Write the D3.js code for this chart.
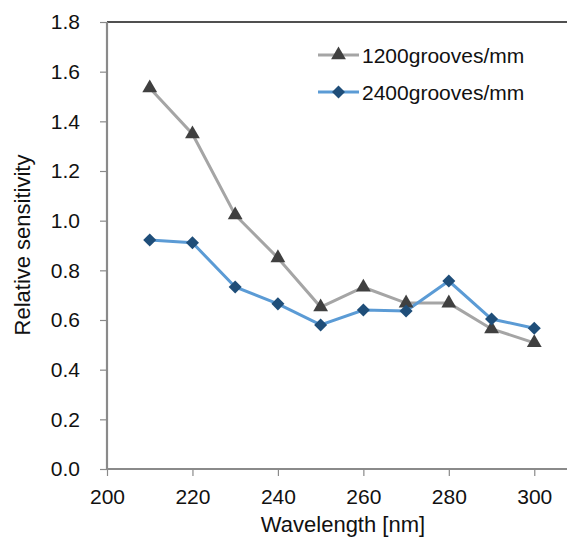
<!DOCTYPE html>
<html><head><meta charset="utf-8">
<script src="https://cdn.jsdelivr.net/npm/d3@7/dist/d3.min.js"></script>
<style>body{margin:0;background:#fff}svg{display:block;font-family:"Liberation Sans",Arial,sans-serif}</style>
</head><body><svg id="c" width="567" height="540"></svg>
<script>
const wavelengths = [210,220,230,240,250,260,270,280,290,300];
const s1200 = [1.534,1.349,1.023,0.850,0.652,0.732,0.668,0.668,0.564,0.508];
const s2400 = [0.922,0.911,0.733,0.665,0.580,0.640,0.636,0.757,0.604,0.567];
const seriesNames = ["1200grooves/mm","2400grooves/mm"];
const xTicks = [200,220,240,260,280,300];
const yTicks = [0,0.2,0.4,0.6,0.8,1.0,1.2,1.4,1.6,1.8];

const svg = d3.select("#c");
const x = d3.scaleLinear().domain([200,310]).range([107,577]);
const y = d3.scaleLinear().domain([0,1.8]).range([469,22]);

// frame top
svg.append("line").attr("x1",107).attr("x2",567).attr("y1",y(1.8)).attr("y2",y(1.8))
  .attr("stroke","#505050").attr("stroke-width",2);

const yAxis = svg.append("g").attr("transform","translate(107,0)")
  .call(d3.axisLeft(y).tickValues(yTicks).tickFormat(d3.format(".1f")).tickSize(7).tickPadding(20));
const xAxis = svg.append("g").attr("transform","translate(0,469)")
  .call(d3.axisBottom(x).tickValues(xTicks).tickSize(7).tickPadding(13));
xAxis.select(".domain").attr("d","M107,0H567");
yAxis.select(".domain").attr("d","M0,469V22");
[xAxis,yAxis].forEach(a=>{
  a.selectAll(".domain").attr("stroke","#8a8a8a").attr("stroke-width",2.2);
  a.selectAll(".tick line").attr("stroke","#8a8a8a").attr("stroke-width",1.2);
  a.selectAll("text").attr("font-size",21).attr("fill","#111").attr("font-family","Liberation Sans, Arial, sans-serif");
});

const triangle = d3.symbol().type(d3.symbolTriangle).size(95);
const diamond = d3.symbol().type(d3.symbolSquare).size(85);

const line = d3.line().x((d,i)=>x(wavelengths[i])).y(d=>y(d));

svg.append("path").datum(s1200).attr("d",line).attr("fill","none").attr("stroke","#a5a5a5").attr("stroke-width",3);
svg.append("path").datum(s2400).attr("d",line).attr("fill","none").attr("stroke","#5b9bd5").attr("stroke-width",3);

svg.selectAll(".tri").data(s1200).join("path").attr("d",triangle)
  .attr("transform",(d,i)=>`translate(${x(wavelengths[i])},${y(d)})`).attr("fill","#404040");
svg.selectAll(".dia").data(s2400).join("path").attr("d",diamond)
  .attr("transform",(d,i)=>`translate(${x(wavelengths[i])},${y(d)}) rotate(45)`).attr("fill","#1f4e79");

// legend
const leg = [{y:55,c:"#a5a5a5",m:triangle,mc:"#404040",rot:0},{y:92,c:"#5b9bd5",m:diamond,mc:"#1f4e79",rot:45}];
leg.forEach((l,i)=>{
  svg.append("line").attr("x1",318).attr("x2",359).attr("y1",l.y).attr("y2",l.y).attr("stroke",l.c).attr("stroke-width",3);
  svg.append("path").attr("d",l.m).attr("fill",l.mc).attr("transform",`translate(338.5,${l.y}) rotate(${l.rot})`);
  svg.append("text").attr("x",362).attr("y",l.y+7.5).attr("font-size",21).attr("fill","#111").text(seriesNames[i]);
});

svg.append("text").attr("x",343).attr("y",532).attr("text-anchor","middle").attr("font-size",22).attr("fill","#111").text("Wavelength [nm]");
svg.append("text").attr("transform","translate(30,245) rotate(-90)").attr("text-anchor","middle").attr("font-size",22).attr("fill","#111").text("Relative sensitivity");
</script></body></html>
